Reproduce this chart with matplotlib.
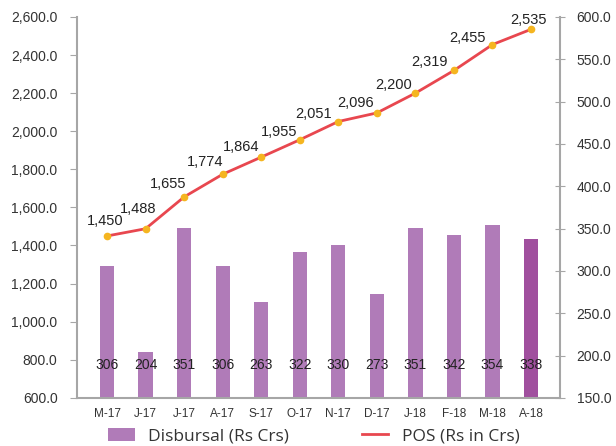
import matplotlib.pyplot as plt
from matplotlib.patches import Patch
from matplotlib.lines import Line2D

months = ['M-17', 'J-17', 'J-17', 'A-17', 'S-17', 'O-17',
          'N-17', 'D-17', 'J-18', 'F-18', 'M-18', 'A-18']
disbursal = [306, 204, 351, 306, 263, 322, 330, 273, 351, 342, 354, 338]
pos = [1450, 1488, 1655, 1774, 1864, 1955, 2051, 2096, 2200, 2319, 2455, 2535]

# label offsets (pixels) for the POS values
lbl_dx = [-2, -7, -16, -18, -20, -21, -25, -21, -22, -24, -25, -3]
lbl_dy = [15, 20, 13, 12, 10, 8, 8, 10, 8, 8, 7, 9]

plt.rcParams['font.family'] = ['Liberation Sans', 'DejaVu Sans']

fig = plt.figure(figsize=(6.16, 4.46), dpi=100)
ax = fig.add_axes([0.125, 0.108, 0.784, 0.854])
ax2 = ax.twinx()

x = list(range(len(months)))
bar_colors = ['#b07bb8'] * (len(months) - 1) + ['#a04f9e']

# bars on the right axis
ax2.bar(x, disbursal, width=0.37, color=bar_colors, zorder=1)
ax2.set_ylim(150, 600)
ax2.set_yticks([150, 200, 250, 300, 350, 400, 450, 500, 550, 600])
ax2.set_yticklabels(['%.1f' % v for v in ax2.get_yticks()])
for i, v in enumerate(disbursal):
    ax2.text(i, 0.085, str(v), transform=ax2.get_xaxis_transform(),
             ha='center', va='center', fontsize=10, color='#222222')

# line on the left axis (drawn above bars)
ax.set_zorder(ax2.get_zorder() + 1)
ax.patch.set_visible(False)
ax.plot(x, pos, color='#e8474f', lw=2, marker='o', markersize=4.5,
        markerfacecolor='#f5b520', markeredgecolor='#f5b520', zorder=3)
for i, v in enumerate(pos):
    ax.annotate('{:,}'.format(v), (i, v), textcoords='offset pixels',
                xytext=(lbl_dx[i], lbl_dy[i]), ha='center', va='center',
                fontsize=10.5, color='#222222')

ax.set_ylim(600, 2600)
ax.set_yticks(range(600, 2601, 200))
ax.set_yticklabels(['{:,.1f}'.format(v) for v in range(600, 2601, 200)])
ax.set_xlim(-0.78, 11.75)
ax.set_xticks(x)
ax.set_xticklabels(months, fontsize=8.5, color='#333333')

for a in (ax, ax2):
    a.spines['top'].set_visible(False)
    for s in ('left', 'right', 'bottom'):
        a.spines[s].set_color('#a6a6a6')
        a.spines[s].set_linewidth(1.5)
ax.spines['right'].set_visible(False)
ax2.spines['left'].set_visible(False)
ax2.spines['bottom'].set_visible(False)

ax.tick_params(axis='y', direction='out', length=5, color='#a6a6a6',
               labelsize=10, labelcolor='#333333', pad=9)
ax.tick_params(axis='x', length=0, pad=7)
ax2.tick_params(axis='y', direction='inout', length=7, color='#a6a6a6',
                labelsize=10, labelcolor='#333333', pad=8.5)

handles = [Patch(facecolor='#b07bb8', edgecolor='none'),
           Line2D([], [], color='#e8474f', lw=2)]
fig.legend(handles, ['Disbursal (Rs Crs)', 'POS (Rs in Crs)'],
           loc='center', bbox_to_anchor=(0.51, 0.022), ncol=2, frameon=False,
           prop={'family': 'Open Sans', 'size': 12.5}, columnspacing=4.2,
           handlelength=1.5, handleheight=0.75, handletextpad=0.8,
           labelcolor='#333333')

plt.savefig('out.png', dpi=100)
